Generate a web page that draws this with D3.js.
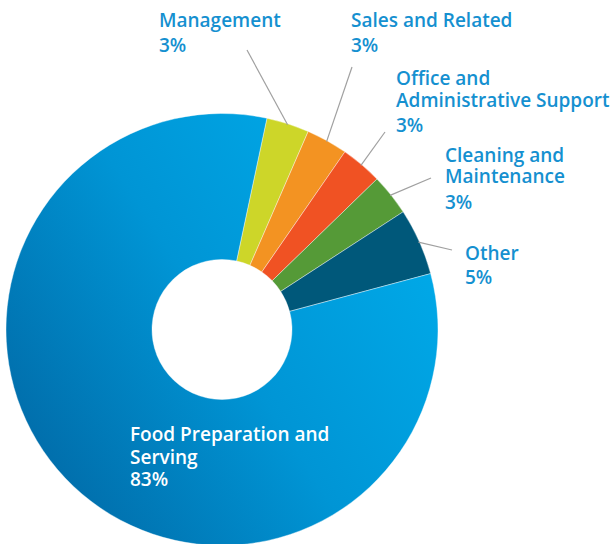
<!DOCTYPE html>
<html><head><meta charset="utf-8">
<script src="https://cdn.jsdelivr.net/npm/d3@7"></script>
<style>html,body{margin:0;padding:0;background:#fff;}svg{display:block;}</style>
</head><body>
<div id="chart"></div>
<script>
// Data
const categories = ["Management","Sales and Related","Office and Administrative Support","Cleaning and Maintenance","Other","Food Preparation and Serving"];
const values = [3.2, 3.1, 3.1, 3.1, 5.0, 82.5];
const labelLines = [["Management"],["Sales and Related"],["Office and","Administrative Support"],["Cleaning and","Maintenance"],["Other"],["Food Preparation and","Serving"]];
const colors = ["#CDD629","#F39322","#F05223","#559A37","#00587A","url(#foodGrad)"];
// Layout (label anchors, line gaps, and leader-line ends)
const labelPos = [[159,26.5],[351,26.5],[396,85],[445,161.7],[465,259.7],[130,441]];
const lineGap = [0,0,22,21.7,0,22.5];
const pctGap = [25,25,25,25.7,24.3,22.5];
const lineEnds = [[247,50],[352,67],[385,132],[431,178],[452,250],null];

const W=616,H=544,cx=222,cy=329.5,rOuter=216,rInner=70;
const svg=d3.select("#chart").append("svg").attr("width",W).attr("height",H);
const defs=svg.append("defs");
const g1=defs.append("linearGradient").attr("id","foodGrad").attr("gradientUnits","userSpaceOnUse")
  .attr("x1",30).attr("y1",480).attr("x2",420).attr("y2",230);
g1.append("stop").attr("offset","0").attr("stop-color","#016CA9");
g1.append("stop").attr("offset","0.5").attr("stop-color","#0095D5");
g1.append("stop").attr("offset","1").attr("stop-color","#00AAE9");

const start=12*Math.PI/180;
const pie=d3.pie().sort(null).value(d=>d).startAngle(start).endAngle(start+2*Math.PI);
const arcs=pie(values);
const arc=d3.arc().innerRadius(rInner).outerRadius(rOuter);
const g=svg.append("g").attr("transform",`translate(${cx},${cy})`);
g.selectAll("path").data(arcs).join("path").attr("d",arc)
  .attr("fill",(d,i)=>colors[i]).attr("stroke","#ffffff").attr("stroke-width",0.4);

// leader lines
arcs.forEach((d,i)=>{
  if(!lineEnds[i]) return;
  const a=(d.startAngle+d.endAngle)/2;
  const x0=cx+(rOuter-1)*Math.sin(a), y0=cy-(rOuter-1)*Math.cos(a);
  svg.append("line").attr("x1",x0).attr("y1",y0).attr("x2",lineEnds[i][0]).attr("y2",lineEnds[i][1])
    .attr("stroke","#a0a0a0").attr("stroke-width",1.2);
});

// labels
arcs.forEach((d,i)=>{
  const isFood=i===5;
  const t=svg.append("text").attr("x",labelPos[i][0]).attr("y",labelPos[i][1])
    .attr("font-family","'Open Sans', sans-serif").attr("font-size",isFood?"19px":"19px")
    .attr("font-weight",600).attr("fill",isFood?"#ffffff":"#1590D0");
  const lines=labelLines[i].concat([Math.round(values[i])+"%"]);
  lines.forEach((s,j)=>{
    const dy = j===0 ? 0 : (j===lines.length-1 ? pctGap[i] : lineGap[i]);
    t.append("tspan").attr("x",labelPos[i][0]).attr("dy",dy).text(s);
  });
});
</script>
</body></html>
